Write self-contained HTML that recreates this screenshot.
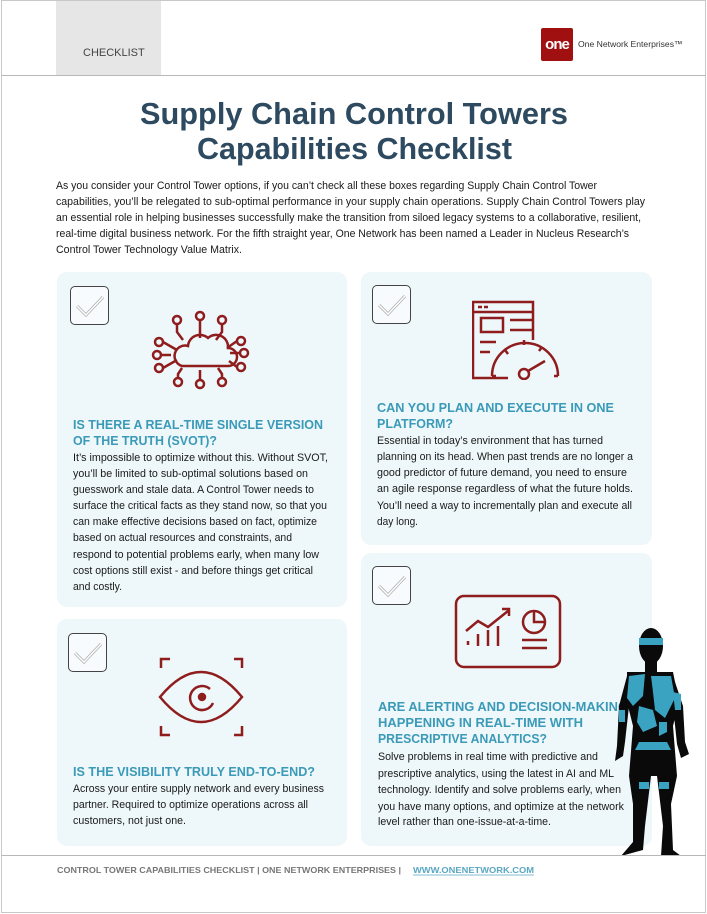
<!DOCTYPE html>
<html><head><meta charset="utf-8"><style>
*{margin:0;padding:0;box-sizing:border-box}
body{width:707px;height:914px;background:#fff;position:relative;overflow:hidden;font-family:"Liberation Sans",Arial,sans-serif;color:#1a1a1a}
.frame{position:absolute;left:1px;top:0;width:705px;height:913px;border:1px solid #c8c8c8}
.hline{position:absolute;left:1px;width:705px;height:1px;background:#b8b8b8}
.tab{position:absolute;left:56px;top:1px;width:105px;height:74px;background:#e6e6e6;font-size:11px;color:#444;padding:46px 0 0 27px}
.logo{position:absolute;left:541px;top:28px;width:32px;height:33px;background:#a01010;border-radius:2px;color:#fff;font-weight:bold;font-size:15px;line-height:33px;text-align:center;letter-spacing:-1px}
.lt{position:absolute;left:578px;top:39px;font-size:8.6px;color:#333;white-space:nowrap}
.card{position:absolute;background:#eef7fa;border-radius:10px}
.cb{position:absolute;width:39px;height:39px;border:1.3px solid #444;border-radius:5px;background:#fff8}
.cb svg{position:absolute;left:4px;top:6px}
#txt{position:absolute;left:0;top:0}
#txt text{font-family:"Liberation Sans",Arial,sans-serif}
.b{font-size:11.3px;fill:#1a1a1a}
.h{font-size:12.5px;font-weight:bold;fill:#3a9ab8}
</style></head><body>
<div class="frame"></div>
<div class="tab">CHECKLIST</div>
<div class="hline" style="top:75px"></div>
<div class="logo">one</div><div class="lt">One Network Enterprises™</div>

<div class="card" style="left:57px;top:272px;width:290px;height:335px"></div>
<div class="card" style="left:361px;top:272px;width:291px;height:273px"></div>
<div class="card" style="left:57px;top:619px;width:290px;height:227px"></div>
<div class="card" style="left:361px;top:553px;width:291px;height:293px"></div>

<div class="cb" style="left:70px;top:286px"><svg width="30" height="26"><path d="M2 13 L11 22 L28 4" fill="none" stroke="#aaa" stroke-width="3"/><path d="M2 13 L11 22 L28 4" fill="none" stroke="#fff" stroke-width="1.5"/></svg></div>
<div class="cb" style="left:372px;top:285px"><svg width="30" height="26"><path d="M2 13 L11 22 L28 4" fill="none" stroke="#aaa" stroke-width="3"/><path d="M2 13 L11 22 L28 4" fill="none" stroke="#fff" stroke-width="1.5"/></svg></div>
<div class="cb" style="left:68px;top:633px"><svg width="30" height="26"><path d="M2 13 L11 22 L28 4" fill="none" stroke="#aaa" stroke-width="3"/><path d="M2 13 L11 22 L28 4" fill="none" stroke="#fff" stroke-width="1.5"/></svg></div>
<div class="cb" style="left:372px;top:566px"><svg width="30" height="26"><path d="M2 13 L11 22 L28 4" fill="none" stroke="#aaa" stroke-width="3"/><path d="M2 13 L11 22 L28 4" fill="none" stroke="#fff" stroke-width="1.5"/></svg></div>

<svg style="position:absolute;left:150px;top:310px" width="110" height="82" fill="none" stroke="#8f1d1d" stroke-width="2.5">
<path d="M32 56 h46 a9 9 0 0 0 0-18 a12 12 0 0 0 -20-10 a12 12 0 0 0 -20 8 a10 10 0 0 0 -6 20z"/>
<circle cx="27" cy="10" r="4"/><circle cx="50" cy="6" r="4"/><circle cx="72" cy="10" r="4"/>
<path d="M27 14 v8 l6 8 M50 10 v18 M72 14 v8 l-6 8"/>
<circle cx="9" cy="32" r="4"/><circle cx="7" cy="45" r="4"/><circle cx="9" cy="58" r="4"/>
<circle cx="91" cy="31" r="4"/><circle cx="94" cy="43" r="4"/><circle cx="91" cy="57" r="4"/>
<path d="M13 32 l14 8 M11 45 h10 M13 58 l14-8 M87 31 l-10 7 M90 43 h-10 M87 57 l-8-6"/>
<circle cx="28" cy="72" r="4"/><circle cx="50" cy="74" r="4"/><circle cx="72" cy="72" r="4"/>
<path d="M28 68 v-4 l4-6 M50 70 v-10 M72 68 v-4 l-4-6"/>
</svg>
<svg style="position:absolute;left:472px;top:300px" width="90" height="80" fill="none" stroke="#8f1d1d" stroke-width="2.5">
<path d="M36 78 H1 V2 H61 V40"/><path d="M1 12 H61"/><path d="M6 7 h4 M12 7 h4"/>
<rect x="9" y="18" width="22" height="14"/><path d="M38 20 h22 M38 30 h22 M8 42 h16 M8 52 h10"/>
<path d="M20 76 a33 33 0 0 1 66 0 M20 76 h4 M82 76 h4"/>
<circle cx="52" cy="74" r="5"/><path d="M56 71 l17-10 M33 50 l3 4 M52 40 v5 M70 47 l-3 4"/>
</svg>
<svg style="position:absolute;left:158px;top:657px" width="88" height="82" fill="none" stroke="#8f1d1d" stroke-width="2.5">
<path d="M3 11 V2 H12 M76 2 H84 V11 M3 69 V78 H12 M76 78 H84 V69"/>
<path d="M2 40 Q43 -10 84 40 Q43 90 2 40z"/>
<path d="M52 32 a12 12 0 1 0 3 14"/><circle cx="44" cy="40" r="3" fill="#8f1d1d"/>
</svg>
<svg style="position:absolute;left:454px;top:594px" width="110" height="76" fill="none" stroke="#8f1d1d" stroke-width="2.5">
<rect x="2" y="2" width="104" height="71" rx="8"/>
<path d="M14 47 v4 M24 40 v12 M34 36 v16 M44 32 v20"/>
<path d="M12 37 l12-10 l10 6 l20-16 M48 15 h7 v7"/>
<circle cx="80" cy="28" r="11"/><path d="M80 17 v11 h11"/><path d="M68 46 h25 M68 54 h25"/>
</svg>

<svg id="txt" width="707" height="914">
<g font-weight="bold" fill="#2d4a60" font-size="31">
<text x="140" y="124" textLength="428" lengthAdjust="spacingAndGlyphs">Supply Chain Control Towers</text>
<text x="197" y="159" textLength="315" lengthAdjust="spacingAndGlyphs">Capabilities Checklist</text>
</g>
<text class="b" x="56" y="189" textLength="541" lengthAdjust="spacingAndGlyphs">As you consider your Control Tower options, if you can’t check all these boxes regarding Supply Chain Control Tower</text>
<text class="b" x="56" y="205" textLength="589" lengthAdjust="spacingAndGlyphs">capabilities, you’ll be relegated to sub-optimal performance in your supply chain operations. Supply Chain Control Towers play</text>
<text class="b" x="56" y="221" textLength="585" lengthAdjust="spacingAndGlyphs">an essential role in helping businesses successfully make the transition from siloed legacy systems to a collaborative, resilient,</text>
<text class="b" x="56" y="237" textLength="573" lengthAdjust="spacingAndGlyphs">real-time digital business network. For the fifth straight year, One Network has been named a Leader in Nucleus Research’s</text>
<text class="b" x="56" y="253" textLength="186" lengthAdjust="spacingAndGlyphs">Control Tower Technology Value Matrix.</text>

<text class="h" x="73" y="429" textLength="250" lengthAdjust="spacingAndGlyphs">IS THERE A REAL-TIME SINGLE VERSION</text>
<text class="h" x="73" y="445" textLength="144" lengthAdjust="spacingAndGlyphs">OF THE TRUTH (SVOT)?</text>
<text class="b" x="73" y="461" textLength="255" lengthAdjust="spacingAndGlyphs">It’s impossible to optimize without this. Without SVOT,</text>
<text class="b" x="73" y="477" textLength="235" lengthAdjust="spacingAndGlyphs">you’ll be limited to sub-optimal solutions based on</text>
<text class="b" x="73" y="493" textLength="241" lengthAdjust="spacingAndGlyphs">guesswork and stale data. A Control Tower needs to</text>
<text class="b" x="73" y="509" textLength="254" lengthAdjust="spacingAndGlyphs">surface the critical facts as they stand now, so that you</text>
<text class="b" x="73" y="525" textLength="244" lengthAdjust="spacingAndGlyphs">can make effective decisions based on fact, optimize</text>
<text class="b" x="73" y="541" textLength="219" lengthAdjust="spacingAndGlyphs">based on actual resources and constraints, and</text>
<text class="b" x="73" y="558" textLength="246" lengthAdjust="spacingAndGlyphs">respond to potential problems early, when many low</text>
<text class="b" x="73" y="574" textLength="240" lengthAdjust="spacingAndGlyphs">cost options still exist - and before things get critical</text>
<text class="b" x="73" y="590" textLength="49" lengthAdjust="spacingAndGlyphs">and costly.</text>

<text class="h" x="377" y="412" textLength="237" lengthAdjust="spacingAndGlyphs">CAN YOU PLAN AND EXECUTE IN ONE</text>
<text class="h" x="377" y="428" textLength="76" lengthAdjust="spacingAndGlyphs">PLATFORM?</text>
<text class="b" x="377" y="444" textLength="226" lengthAdjust="spacingAndGlyphs">Essential in today’s environment that has turned</text>
<text class="b" x="377" y="460" textLength="256" lengthAdjust="spacingAndGlyphs">planning on its head. When past trends are no longer a</text>
<text class="b" x="377" y="476" textLength="250" lengthAdjust="spacingAndGlyphs">good predictor of future demand, you need to ensure</text>
<text class="b" x="377" y="492" textLength="256" lengthAdjust="spacingAndGlyphs">an agile response regardless of what the future holds.</text>
<text class="b" x="377" y="509" textLength="255" lengthAdjust="spacingAndGlyphs">You’ll need a way to incrementally plan and execute all</text>
<text class="b" x="377" y="525" textLength="41" lengthAdjust="spacingAndGlyphs">day long.</text>

<text class="h" x="73" y="776" textLength="242" lengthAdjust="spacingAndGlyphs">IS THE VISIBILITY TRULY END-TO-END?</text>
<text class="b" x="73" y="792" textLength="251" lengthAdjust="spacingAndGlyphs">Across your entire supply network and every business</text>
<text class="b" x="73" y="808" textLength="235" lengthAdjust="spacingAndGlyphs">partner. Required to optimize operations across all</text>
<text class="b" x="73" y="824" textLength="113" lengthAdjust="spacingAndGlyphs">customers, not just one.</text>

<text class="h" x="378" y="711" textLength="250" lengthAdjust="spacingAndGlyphs">ARE ALERTING AND DECISION-MAKING</text>
<text class="h" x="378" y="727" textLength="205" lengthAdjust="spacingAndGlyphs">HAPPENING IN REAL-TIME WITH</text>
<text class="h" x="378" y="743" textLength="169" lengthAdjust="spacingAndGlyphs">PRESCRIPTIVE ANALYTICS?</text>
<text class="b" x="378" y="760" textLength="220" lengthAdjust="spacingAndGlyphs">Solve problems in real time with predictive and</text>
<text class="b" x="378" y="777" textLength="236" lengthAdjust="spacingAndGlyphs">prescriptive analytics, using the latest in AI and ML</text>
<text class="b" x="378" y="793" textLength="243" lengthAdjust="spacingAndGlyphs">technology. Identify and solve problems early, when</text>
<text class="b" x="378" y="810" textLength="246" lengthAdjust="spacingAndGlyphs">you have many options, and optimize at the network</text>
<text class="b" x="378" y="825" textLength="173" lengthAdjust="spacingAndGlyphs">level rather than one-issue-at-a-time.</text>

<text x="57" y="873" font-size="8.5" font-weight="bold" fill="#777" textLength="344" lengthAdjust="spacingAndGlyphs">CONTROL TOWER CAPABILITIES CHECKLIST  |  ONE NETWORK ENTERPRISES  |</text>
<text x="413" y="873" font-size="8.5" font-weight="bold" fill="#5aa7c2" textLength="121" lengthAdjust="spacingAndGlyphs">WWW.ONENETWORK.COM</text>
<line x1="413" y1="875" x2="534" y2="875" stroke="#5aa7c2" stroke-width="0.8"/>
</svg>

<svg style="position:absolute;left:615px;top:626px" width="80" height="232">
<g fill="#0a0a0a">
<ellipse cx="36" cy="20" rx="12" ry="18"/>
<rect x="30" y="34" width="12" height="12"/>
<path d="M12 46 L58 46 L64 76 L58 100 L62 150 L56 178 L58 224 L66 230 L46 230 L48 200 L42 150 L36 150 L30 200 L28 224 L6 230 L18 216 L18 178 L14 150 L18 100 L12 76z"/>
<path d="M12 50 L4 80 L2 120 L0 135 L8 130 L10 116 L14 80z"/>
<path d="M58 50 L68 80 L70 116 L74 128 L66 132 L62 118 L58 80z"/>
</g>
<g fill="#3aa3c2">
<rect x="24" y="12" width="24" height="7"/>
<path d="M14 50 L30 48 L28 70 L18 80 L12 72z"/>
<path d="M36 50 L56 50 L60 72 L50 92 L40 84 L38 66z"/>
<path d="M24 80 L38 84 L42 100 L28 106 L22 96z"/>
<path d="M44 96 L52 96 L52 106 L44 110z"/>
<path d="M58 66 L66 68 L66 84 L60 84z"/>
<path d="M4 84 L10 84 L10 96 L4 96z"/>
<path d="M24 116 L52 116 L56 124 L20 124z"/>
<rect x="24" y="156" width="10" height="7"/><rect x="44" y="156" width="10" height="7"/>
</g>
</svg>

<div class="hline" style="top:855px"></div>
</body></html>
